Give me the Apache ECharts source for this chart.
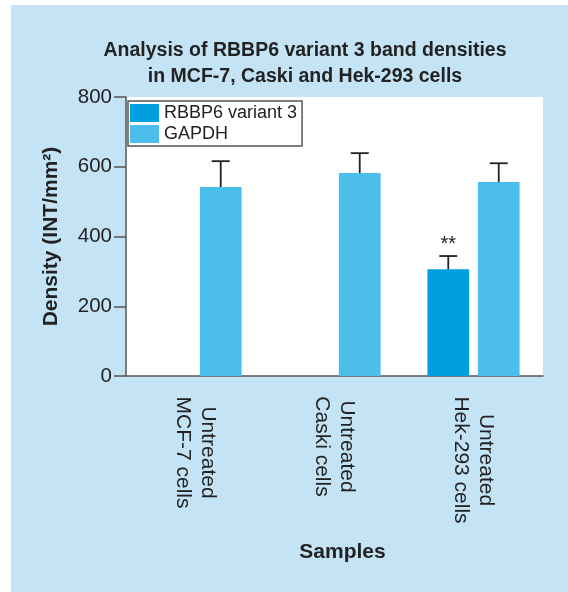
<!DOCTYPE html>
<html>
<head>
<meta charset="utf-8">
<script src="https://cdn.jsdelivr.net/npm/echarts@6/dist/echarts.min.js"></script>
<style>
html,body{margin:0;padding:0;background:#fff;}
#c{width:568px;height:592px;}
</style>
</head>
<body>
<div id="c"></div>
<script>
var categories = ['Untreated\nMCF-7 cells', 'Untreated\nCaski cells', 'Untreated\nHek-293 cells'];
var seriesNames = ['RBBP6 variant 3', 'GAPDH'];
var variantValues = [null, null, 306];
var variantErrors = [null, null, 38];
var variantSignif = ['', '', '**'];
var gapdhValues = [542, 582, 556];
var gapdhErrors = [74, 57, 54];
var yTicks = [0, 200, 400, 600, 800];

var FONT = "'Liberation Sans', Arial, Helvetica, sans-serif";
var BAR_W = 0.30;   // fraction of band
var BAR_GAP = 0.21; // fraction of bar width
var XLAB_SIZE = 21;

// measure label lines so that lines are centred within the label block
var mctx = document.createElement('canvas').getContext('2d');
mctx.font = XLAB_SIZE + 'px ' + FONT;
var richStyles = {};
var catRich = {};
categories.forEach(function (c, i) {
  var lines = c.split('\n');
  var w = 0;
  lines.forEach(function (l) { w = Math.max(w, mctx.measureText(l).width); });
  var key = 'c' + i;
  richStyles[key] = {width: Math.ceil(w), align: 'center', fontFamily: FONT, fontSize: XLAB_SIZE, lineHeight: 25, color: '#222'};
  catRich[c] = lines.map(function (l) { return '{' + key + '|' + l + '}'; }).join('\n');
});

function errData(vals, errs, sig) {
  var out = [];
  for (var i = 0; i < vals.length; i++) {
    if (vals[i] != null) out.push([i, vals[i], errs[i], sig ? sig[i] : '']);
  }
  return out;
}

function offsetFor(api, side) {
  var bw = api.size([1, 0])[0];
  return side * (bw * BAR_W * (1 + BAR_GAP)) / 2;
}

function makeErrRender(side) {
  return function (params, api) {
    var idx = api.value(0), v = api.value(1), e = api.value(2);
    var off = offsetFor(api, side);
    var base = api.coord([idx, v]);
    var top = api.coord([idx, v + e]);
    var x = base[0] + off;
    return {type: 'group', children: [
      {type: 'line', shape: {x1: x, y1: base[1], x2: x, y2: top[1]}, style: {stroke: '#222', lineWidth: 1.8}},
      {type: 'line', shape: {x1: x - 9, y1: top[1], x2: x + 9, y2: top[1]}, style: {stroke: '#222', lineWidth: 1.8}}
    ]};
  };
}

var vErr = errData(variantValues, variantErrors, variantSignif);
var gErr = errData(gapdhValues, gapdhErrors, null);

var chart = echarts.init(document.getElementById('c'), null, {renderer: 'canvas'});
chart.setOption({
  backgroundColor: '#c4e4f6',
  animation: false,
  graphic: [
    {type: 'rect', left: 0, top: 0, shape: {width: 11, height: 592}, style: {fill: '#ffffff'}, silent: true},
    {type: 'rect', left: 0, top: 0, shape: {width: 568, height: 5}, style: {fill: '#ffffff'}, silent: true}
  ],
  title: {
    text: 'Analysis of RBBP6 variant 3 band densities\nin MCF-7, Caski and Hek-293 cells',
    left: 305, top: 38, textAlign: 'center', padding: 0,
    textStyle: {fontFamily: FONT, fontSize: 19.5, fontWeight: 'bold', color: '#222', lineHeight: 26}
  },
  legend: {
    data: seriesNames,
    orient: 'vertical',
    left: 128, top: 101,
    itemWidth: 29, itemHeight: 18, itemGap: 3,
    padding: [3, 5, 3, 2],
    borderColor: '#555', borderWidth: 1.5,
    icon: 'rect',
    textStyle: {fontFamily: FONT, fontSize: 18, color: '#222'}
  },
  grid: {left: 126, right: 25, top: 97, bottom: 216, show: true, backgroundColor: '#ffffff', borderWidth: 0},
  xAxis: {
    type: 'category', data: categories,
    axisLine: {lineStyle: {color: '#555', width: 1.5}},
    axisTick: {alignWithLabel: true, length: 10, lineStyle: {color: '#555', width: 1.5}},
    axisLabel: {rotate: -90, margin: 20, fontFamily: FONT, fontSize: XLAB_SIZE, lineHeight: 25, color: '#222',
      formatter: function (v) { return catRich[v]; }, rich: richStyles},
    name: 'Samples', nameLocation: 'middle', nameGap: 166,
    nameTextStyle: {fontFamily: FONT, fontSize: 21, fontWeight: 'bold', color: '#222', padding: [0, 0, 0, 16]}
  },
  yAxis: {
    type: 'value', min: yTicks[0], max: yTicks[yTicks.length - 1], interval: yTicks[1] - yTicks[0],
    splitLine: {show: false},
    axisLine: {show: true, lineStyle: {color: '#555', width: 1.5}},
    axisTick: {show: true, length: 12, lineStyle: {color: '#555', width: 1.5}},
    axisLabel: {margin: 14, fontFamily: FONT, fontSize: 20.5, color: '#222'},
    name: 'Density (INT/mm\u00b2)', nameLocation: 'middle', nameGap: 64,
    nameTextStyle: {fontFamily: FONT, fontSize: 21, fontWeight: 'bold', color: '#222'}
  },
  series: [
    {name: seriesNames[0], type: 'bar', data: variantValues.map(function (v) { return v == null ? '-' : v; }),
     barWidth: (BAR_W * 100) + '%', barGap: (BAR_GAP * 100) + '%', itemStyle: {color: '#00a0e0'}},
    {name: seriesNames[1], type: 'bar', data: gapdhValues,
     barWidth: (BAR_W * 100) + '%', barGap: (BAR_GAP * 100) + '%', itemStyle: {color: '#4cbeec'}},
    {name: 'errV', type: 'custom', data: vErr, renderItem: makeErrRender(-1), z: 5, encode: {x: 0, y: 1}},
    {name: 'errG', type: 'custom', data: gErr, renderItem: makeErrRender(1), z: 5, encode: {x: 0, y: 1}},
    {name: 'sigV', type: 'custom', data: vErr, renderItem: function (params, api) {
      var d = vErr[params.dataIndex];
      var off = offsetFor(api, -1);
      var top = api.coord([d[0], d[1] + d[2]]);
      return {type: 'text', style: {x: top[0] + off, y: top[1] - 22, text: d[3], align: 'center', verticalAlign: 'top', font: '20px ' + FONT, fill: '#222'}};
    }, z: 6, encode: {x: 0, y: 1}}
  ]
});
</script>
</body>
</html>
